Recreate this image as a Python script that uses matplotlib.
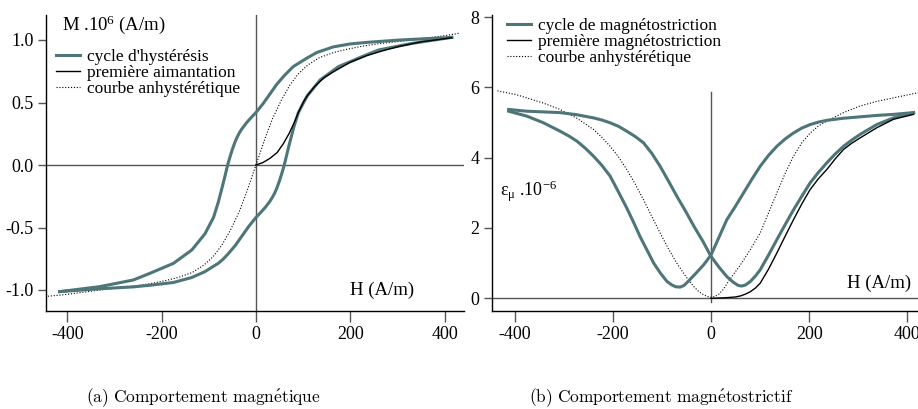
import matplotlib
matplotlib.use("Agg")
import matplotlib.pyplot as plt
from matplotlib.lines import Line2D

plt.rcParams["font.family"] = ["Liberation Serif", "DejaVu Serif"]
plt.rcParams["mathtext.fontset"] = "custom"
plt.rcParams["mathtext.rm"] = "Liberation Serif"
plt.rcParams["mathtext.it"] = "Liberation Serif:italic"
plt.rcParams["axes.unicode_minus"] = False

TEAL = "#4e7579"
GREY = "#555555"
FS = 13

# ---- (a) comportement magnetique : H (A/m), M (1e6 A/m)
h_desc = [415, 305, 235, 199, 164, 129, 107, 79, 60, 44, 30, 15, 0, -10, -20, -30, -35, -40,
          -45, -50, -55, -60, -70, -80, -90, -108, -136, -175, -225, -260, -331, -416]
m_desc = [1.021, 1.0, 0.981, 0.968, 0.945, 0.9, 0.853, 0.787, 0.715, 0.645, 0.57, 0.49, 0.42,
          0.38, 0.338, 0.288, 0.258, 0.222, 0.178, 0.125, 0.065, 0.0, -0.155, -0.30, -0.42,
          -0.55, -0.68, -0.787, -0.867, -0.92, -0.973, -1.013]
h_asc = [-416, -331, -260, -225, -175, -136, -108, -90, -80, -70, -60, -44, -30, -15, 0,
         10, 20, 30, 35, 40, 45, 50, 55, 60, 70, 80, 90, 108, 136, 175, 225, 260, 331, 415]
m_asc = [-1.013, -0.99, -0.975, -0.962, -0.94, -0.9, -0.853, -0.81, -0.787, -0.755, -0.715,
         -0.645, -0.57, -0.49, -0.42, -0.38, -0.338, -0.288, -0.258, -0.222, -0.178, -0.125,
         -0.065, 0.0, 0.155, 0.30, 0.42, 0.55, 0.68, 0.787, 0.867, 0.92, 0.973, 1.021]
h_first = [0, 15, 30, 45, 58, 70, 80, 90, 100, 110, 125, 145, 164, 199, 235, 270, 305, 350, 415]
m_first = [0, 0.02, 0.054, 0.1, 0.17, 0.25, 0.33, 0.42, 0.5, 0.56, 0.63, 0.7, 0.745, 0.82,
           0.875, 0.915, 0.95, 0.985, 1.018]
h_anh = [-441, -400, -331, -260, -225, -192, -165, -135, -110, -90, -72, -54, -35, -20, -10, 0,
         10, 20, 35, 54, 72, 90, 110, 135, 165, 192, 225, 260, 331, 400, 433]
m_anh = [-1.05, -1.035, -1.0, -0.97, -0.95, -0.925, -0.9, -0.86, -0.8, -0.73, -0.64, -0.52,
         -0.37, -0.22, -0.11, 0.0, 0.11, 0.22, 0.37, 0.52, 0.64, 0.73, 0.8, 0.86, 0.9, 0.925,
         0.95, 0.97, 1.0, 1.035, 1.055]

# ---- (b) comportement magnetostrictif : eps (1e-6)
hb_desc = [413, 372, 338, 304, 270, 236, 219, 202, 185, 168, 151, 134, 117, 100, 83, 66, 49,
           32, 16, 0, -15, -30, -45, -55, -63, -72, -80, -90, -103, -117, -131, -145, -158,
           -172, -189, -206, -223, -240, -257, -274, -291, -308, -342, -376, -413]
eb_desc = [5.28, 5.23, 5.20, 5.16, 5.12, 5.06, 5.01, 4.94, 4.84, 4.70, 4.53, 4.32, 4.06, 3.75,
           3.38, 2.99, 2.60, 2.23, 1.73, 1.23, 0.95, 0.72, 0.50, 0.36, 0.31, 0.32, 0.37, 0.47,
           0.70, 0.99, 1.37, 1.75, 2.15, 2.56, 3.02, 3.47, 3.78, 4.04, 4.27, 4.47, 4.62, 4.75,
           4.99, 5.18, 5.32]
hb_asc = [-413, -376, -342, -308, -274, -240, -223, -206, -189, -172, -155, -138, -121, -104,
          -87, -70, -52, -35, -17, 0, 16, 32, 45, 55, 62, 70, 80, 90, 100, 117, 134, 151, 168,
          185, 202, 219, 236, 253, 270, 287, 304, 338, 372, 413]
eb_asc = [5.37, 5.32, 5.30, 5.28, 5.22, 5.13, 5.07, 4.99, 4.89, 4.75, 4.60, 4.42, 4.12, 3.75,
          3.33, 2.90, 2.47, 2.04, 1.62, 1.18, 0.88, 0.61, 0.45, 0.36, 0.34, 0.37, 0.47, 0.62,
          0.80, 1.22, 1.66, 2.09, 2.51, 2.90, 3.28, 3.58, 3.85, 4.10, 4.32, 4.50, 4.66, 4.94,
          5.13, 5.28]
hb_first = [0, 32, 50, 60, 70, 80, 90, 100, 117, 134, 151, 168, 185, 202, 219, 236, 253, 270,
            287, 304, 338, 372, 413]
eb_first = [-0.01, 0.01, 0.03, 0.06, 0.11, 0.18, 0.28, 0.42, 0.82, 1.28, 1.76, 2.23, 2.68,
            3.09, 3.40, 3.66, 3.96, 4.23, 4.41, 4.56, 4.85, 5.09, 5.23]
hb_anh = [-436, -400, -376, -342, -308, -274, -240, -223, -206, -189, -172, -155, -138, -121,
          -104, -87, -70, -52, -35, -25, -15, -7, 0, 7, 15, 25, 32, 45, 60, 80, 100, 117, 134,
          151, 168, 185, 202, 219, 236, 270, 304, 338, 372, 423]
eb_anh = [5.90, 5.80, 5.70, 5.55, 5.37, 5.12, 4.80, 4.58, 4.32, 4.02, 3.66, 3.25, 2.80, 2.32,
          1.85, 1.40, 0.99, 0.62, 0.32, 0.18, 0.09, 0.04, 0.02, 0.04, 0.10, 0.25, 0.40, 0.66,
          0.95, 1.38, 1.85, 2.42, 2.99, 3.55, 4.04, 4.42, 4.70, 4.90, 5.04, 5.28, 5.47, 5.60,
          5.70, 5.85]

fig = plt.figure(figsize=(9.18, 4.09), dpi=100)
W, H = 918, 409
ax1 = fig.add_axes([46 / W, 1 - 311 / H, 418 / W, 296 / H])
ax2 = fig.add_axes([492 / W, 1 - 311 / H, 426 / W, 296 / H])

dots = (0, (1, 1.6))


def style(ax):
    for s in ("top", "right"):
        ax.spines[s].set_visible(False)
    for s in ("left", "bottom"):
        ax.spines[s].set_linewidth(1.0)
        ax.spines[s].set_color("black")
    ax.tick_params(axis="x", direction="out", length=8, width=1, color=GREY,
                   labelsize=FS, pad=3)
    ax.tick_params(axis="y", direction="out", length=6, width=1, color=GREY,
                   labelsize=FS, pad=3)
    ax.axhline(0, color=GREY, lw=1, zorder=1)


def legend(ax, labels, anchor):
    hand = [Line2D([], [], color=TEAL, lw=2.2),
            Line2D([], [], color="black", lw=1.0),
            Line2D([], [], color="black", lw=0.8, ls=dots)]
    ax.legend(hand, labels, loc="upper left", bbox_to_anchor=anchor, frameon=False,
              fontsize=12.5, handlelength=1.4, handletextpad=0.4, labelspacing=0.0,
              borderpad=0, borderaxespad=0)


# (a)
style(ax1)
ax1.axvline(0, color=GREY, lw=1, zorder=1)
ax1.plot(h_anh, m_anh, color="black", lw=0.8, ls=dots, zorder=2)
ax1.plot(h_desc, m_desc, color=TEAL, lw=2.2, zorder=3)
ax1.plot(h_asc, m_asc, color=TEAL, lw=2.2, zorder=3)
ax1.plot(h_first, m_first, color="black", lw=1.0, zorder=4)
ax1.set_xlim(-445, 441)
ax1.set_ylim(-1.168, 1.2)
ax1.set_xticks([-400, -200, 0, 200, 400])
ax1.set_yticks([-1.0, -0.5, 0.0, 0.5, 1.0])
ax1.set_yticklabels(["-1.0", "-0.5", "0.0", "0.5", "1.0"])
ax1.text(-411, 1.08, "M .10$^{6}$ (A/m)", fontsize=13.5, va="baseline")
ax1.text(199, -1.04, "H (A/m)", fontsize=13.5, va="baseline")
legend(ax1, ["cycle d'hystérésis", "première aimantation", "courbe anhystérétique"],
       (10 / 418, 0.885))

# (b)
style(ax2)
ax2.plot([0, 0], [-0.1, 5.86], color=GREY, lw=1, zorder=1)
ax2.plot(hb_anh, eb_anh, color="black", lw=0.8, ls=dots, zorder=2)
ax2.plot(hb_desc, eb_desc, color=TEAL, lw=2.2, zorder=3)
ax2.plot(hb_asc, eb_asc, color=TEAL, lw=2.2, zorder=3)
ax2.plot(hb_first, eb_first, color="black", lw=1.0, zorder=4)
ax2.set_xlim(-447, 422)
ax2.set_ylim(-0.37, 8.06)
ax2.set_xticks([-400, -200, 0, 200, 400])
ax2.set_yticks([0, 2, 4, 6, 8])
ax2.text(-431, 2.89, "ε$_{\\mathrm{μ}}$ .10$^{-6}$", fontsize=13, va="baseline")
ax2.text(278, 0.29, "H (A/m)", fontsize=13.5, va="baseline")
legend(ax2, ["cycle de magnétostriction", "première magnétostriction",
             "courbe anhystérétique"], (15 / 426, 0.99))

cap_a = r"$\mathrm{(a)\ Comportement\ magn\acute{e}tique}$"
cap_b = r"$\mathrm{(b)\ Comportement\ magn\acute{e}tostrictif}$"
fig.text(203 / W, 1 - 402 / H, cap_a, math_fontfamily="cm", fontsize=12.5,
         ha="center", va="baseline")
fig.text(661 / W, 1 - 402 / H, cap_b, math_fontfamily="cm", fontsize=12.5,
         ha="center", va="baseline")

fig.savefig("out.png", dpi=100)
